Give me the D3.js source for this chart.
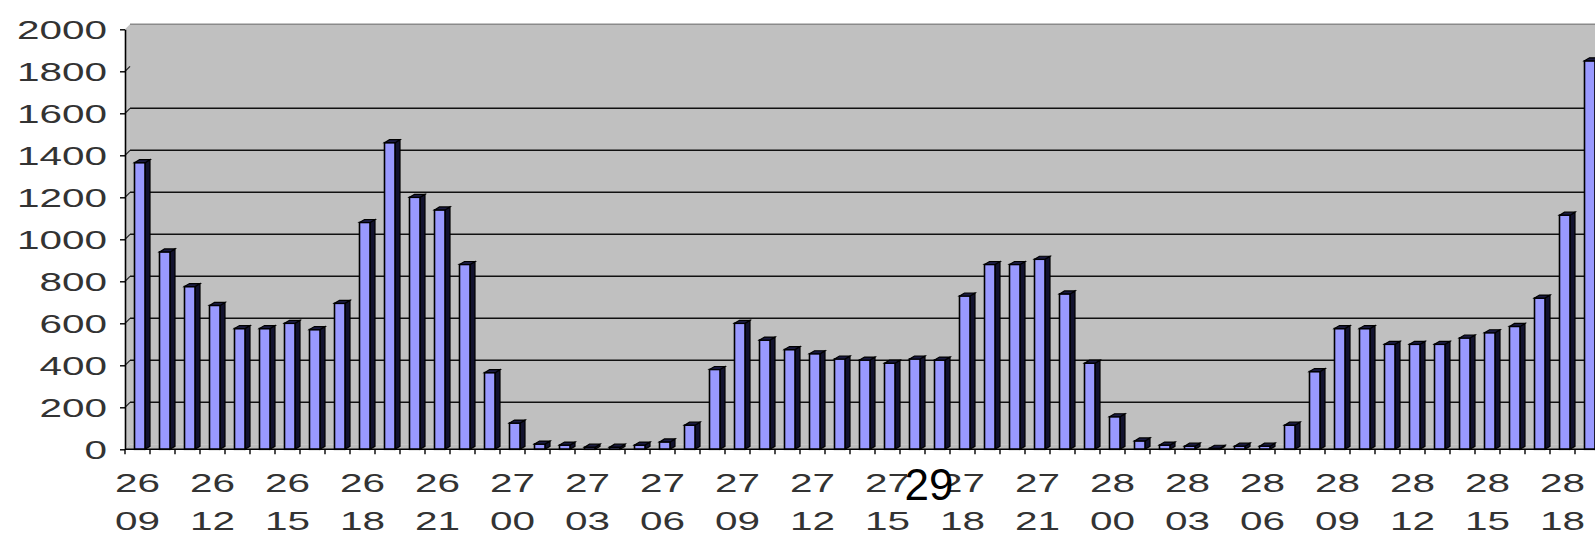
<!DOCTYPE html>
<html>
<head>
<meta charset="utf-8">
<script src="https://cdn.jsdelivr.net/npm/d3@7"></script>
<style>
  body { margin: 0; background: #fff; }
  svg { display: block; }
</style>
</head>
<body>
<script>
// hourly categories, 26 09 .. 28 19
var categories = [
  "26 09","26 10","26 11","26 12","26 13","26 14","26 15","26 16","26 17","26 18","26 19","26 20","26 21","26 22","26 23",
  "27 00","27 01","27 02","27 03","27 04","27 05","27 06","27 07","27 08","27 09","27 10","27 11","27 12","27 13","27 14",
  "27 15","27 16","27 17","27 18","27 19","27 20","27 21","27 22","27 23",
  "28 00","28 01","28 02","28 03","28 04","28 05","28 06","28 07","28 08","28 09","28 10","28 11","28 12","28 13","28 14",
  "28 15","28 16","28 17","28 18","28 19"
];
var values = [
  1365, 940, 775, 685, 575, 575, 600, 570, 695, 1080, 1460, 1200, 1140, 880, 365,
  125, 25, 20, 10, 10, 20, 35, 115, 380, 600, 520, 475, 455, 430, 425,
  410, 430, 425, 730, 880, 880, 905, 740, 410,
  155, 40, 20, 15, 5, 15, 15, 115, 370, 575, 575, 500, 500, 500, 530,
  555, 585, 720, 1115, 1850
];
var tickCats = ["26 09","26 12","26 15","26 18","26 21","27 00","27 03","27 06","27 09","27 12",
  "27 15","27 18","27 21","28 00","28 03","28 06","28 09","28 12","28 15","28 18"];
var yTicks = [0, 200, 400, 600, 800, 1000, 1200, 1400, 1600, 1800, 2000];
var gridVals = [200, 400, 600, 800, 1000, 1200, 1400, 1600];

var W = 1595, H = 535;
var depthX = 5, depthY = 5;
var stretch = 1.62;
var font = 'Liberation Sans, Arial, sans-serif';

var svg = d3.select('body').append('svg').attr('width', W).attr('height', H);

var x = d3.scaleBand().domain(categories).range([125, 1600]).padding(0);
var y = d3.scaleLinear().domain([0, 2000]).range([449.3, 29.3]);
var x0 = 125, y0 = y(0);

// walls and floor
svg.append('polygon')
  .attr('points', [[x0, y(2000)], [x0 + depthX, y(2000) - depthY], [x0 + depthX, y0 - depthY], [x0, y0]].join(' '))
  .attr('fill', '#c4c4c4');
svg.append('rect').attr('x', x0 + depthX).attr('y', y(2000) - depthY)
  .attr('width', W - x0).attr('height', y0 - y(2000))
  .attr('fill', '#c0c0c0');
svg.append('polygon')
  .attr('points', [[x0, y0], [x0 + depthX, y0 - depthY], [W + 5, y0 - depthY], [W + 5, y0]].join(' '))
  .attr('fill', '#bdbdbd');
svg.append('line').attr('x1', x0 + depthX).attr('x2', W).attr('y1', y(2000) - depthY).attr('y2', y(2000) - depthY)
  .attr('stroke', '#8a8a8a').attr('stroke-width', 1.5);

// gridlines on back wall
svg.selectAll('.grid').data(gridVals).enter().append('line')
  .attr('x1', x0 + depthX).attr('x2', W)
  .attr('y1', function(d) { return y(d) - depthY; })
  .attr('y2', function(d) { return y(d) - depthY; })
  .attr('stroke', '#111').attr('stroke-width', 1.6);
svg.selectAll('.diag').data(yTicks.slice(1, 10)).enter().append('line')
  .attr('x1', x0).attr('x2', x0 + depthX)
  .attr('y1', function(d) { return y(d); })
  .attr('y2', function(d) { return y(d) - depthY; })
  .attr('stroke', '#222').attr('stroke-width', 1.2);

// bars
var bars = svg.selectAll('.bar').data(values).enter().append('g');
bars.each(function(v, i) {
  var g = d3.select(this);
  var bx = x(categories[i]) + 9.5, bw = 10.5, d = 5, top = y(v);
  g.append('polygon')
    .attr('points', [[bx + bw, top], [bx + bw + d, top - 3], [bx + bw + d, y0 - 3], [bx + bw, y0]].join(' '))
    .attr('fill', '#12122e').attr('stroke', '#000').attr('stroke-width', 1.2);
  g.append('rect').attr('x', bx).attr('y', top).attr('width', bw).attr('height', y0 - top)
    .attr('fill', '#9999ff').attr('stroke', '#000').attr('stroke-width', 1.6);
  g.append('polygon')
    .attr('points', [[bx, top], [bx + d, top - 3], [bx + bw + d, top - 3], [bx + bw, top]].join(' '))
    .attr('fill', '#1a1a40').attr('stroke', '#000').attr('stroke-width', 1.2);
});

// y axis
var yAxis = svg.append('g').attr('transform', 'translate(' + x0 + ',0)')
  .call(d3.axisLeft(y).tickValues(yTicks).tickFormat(d3.format('d')).tickSize(5).tickSizeOuter(0));
yAxis.select('.domain').attr('stroke', '#000').attr('stroke-width', 1.6);
yAxis.selectAll('.tick line').attr('stroke', '#000').attr('stroke-width', 1.4);
yAxis.selectAll('.tick text')
  .attr('font-family', font).attr('font-size', 25)
  .attr('fill', '#333')
  .attr('x', -18 / stretch).attr('dy', '0.36em')
  .attr('transform', 'scale(' + stretch + ',1)');

// x axis
svg.append('line').attr('x1', x0).attr('x2', W).attr('y1', y0).attr('y2', y0)
  .attr('stroke', '#000').attr('stroke-width', 1.6);
svg.selectAll('.xtick').data(categories).enter().append('line')
  .attr('x1', function(d) { return x(d); }).attr('x2', function(d) { return x(d); })
  .attr('y1', y0).attr('y2', y0 + 5)
  .attr('stroke', '#000').attr('stroke-width', 1.4);

var xl = svg.selectAll('.xlab').data(tickCats).enter().append('g')
  .attr('transform', function(d) { return 'translate(' + (x(d) + x.bandwidth() / 2) + ',0) scale(' + stretch + ',1)'; });
xl.append('text').attr('y', 492).attr('text-anchor', 'middle')
  .attr('font-family', font).attr('font-size', 25).attr('fill', '#333')
  .text(function(d) { return d.split(' ')[0]; });
xl.append('text').attr('y', 530).attr('text-anchor', 'middle')
  .attr('font-family', font).attr('font-size', 25).attr('fill', '#333')
  .text(function(d) { return d.split(' ')[1]; });

// page number overlay
svg.append('rect').attr('x', 907).attr('y', 462).attr('width', 42).attr('height', 42).attr('fill', '#fff');
svg.append('text').attr('x', 929).attr('y', 500).attr('text-anchor', 'middle')
  .attr('font-family', font).attr('font-size', 44).attr('fill', '#000')
  .text('29');
</script>
</body>
</html>
